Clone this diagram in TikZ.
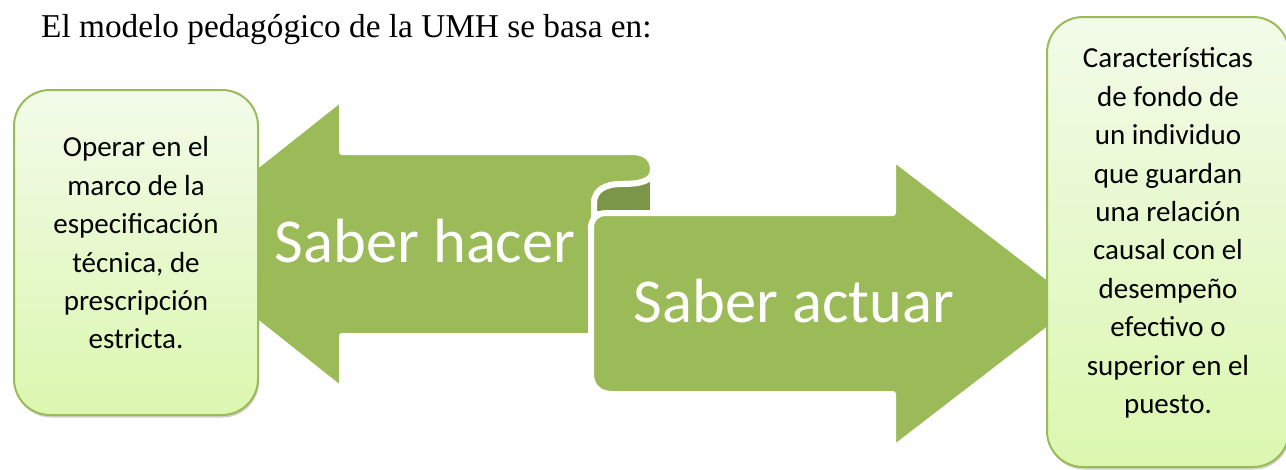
\documentclass[tikz,border=0pt]{standalone}
\usepackage{fontspec}
\setmainfont{Liberation Serif}
\newfontfamily\carlito{Carlito}
\usetikzlibrary{shadows}
\definecolor{arrowgreen}{RGB}{155,187,89}
\definecolor{curldark}{RGB}{124,150,71}
\definecolor{boxtop}{RGB}{242,251,233}
\definecolor{boxbot}{RGB}{219,247,175}
\definecolor{boxline}{RGB}{155,187,89}
\tikzset{
  ribbon/.style={fill=arrowgreen, draw=white, line width=6pt, line join=round,
    drop shadow={shadow xshift=1pt, shadow yshift=-2.5pt, opacity=0.18, fill=black}},
  curl/.style={fill=curldark, draw=white, line width=6pt, line join=round},
  infobox/.style={draw=boxline, line width=2pt, rounded corners=36pt,
    top color=boxtop, bottom color=boxbot, inner sep=0pt,
    minimum width=244pt, minimum height=325pt,
    drop shadow={shadow xshift=1pt, shadow yshift=-2.5pt, opacity=0.18, fill=black}},
  boxtext/.style={font=\carlito\fontsize{29}{38.4}\selectfont, align=center, text=black, inner sep=0pt},
  bigtext/.style={font=\carlito\fontsize{62.5}{70}\selectfont, text=white, inner sep=0pt, anchor=base},
  titletext/.style={font=\fontsize{33.3}{40}\selectfont, inner sep=0pt, anchor=base west}
}
\begin{document}
\begin{tikzpicture}[x=1pt,y=-1pt]
\clip (0,0) rectangle (1286,469);
\fill[white] (0,0) rectangle (1286,469);

% title
\node[titletext] (title) at (41,37) {El modelo pedagógico de la UMH se basa en:};

% left ribbon arrow (Saber hacer)
\path[ribbon] (158,244) -- (342,98) -- (342,152) -- (632,152)
  .. controls (646,152) and (653,159) .. (653,170)
  .. controls (653,181) and (641,184) .. (622,184)
  .. controls (605,184) and (594,190) .. (594,204)
  -- (594,336) -- (342,336) -- (342,390) -- cycle;

% inner side of the curl
\path[curl] (653,170)
  .. controls (653,181) and (641,184) .. (622,184)
  .. controls (605,184) and (594,190) .. (594,204)
  -- (594,214) -- (653,214) -- cycle;

% right ribbon arrow (Saber actuar)
\path[ribbon] (591,228) .. controls (591,219) and (597,213) .. (606,213)
  -- (893,213) -- (893,158) -- (1082,303.5) -- (893,449) -- (893,394)
  -- (612,394) .. controls (599,394) and (591,386) .. (591,374) -- cycle;

\node[bigtext] (hacer) at (425,262) {Saber hacer};
\node[bigtext] (actuar) at (794,322) {Saber actuar};

% left box
\node[infobox] (lbox) at (136,252.5) {};
\node[boxtext] (ltext) at (136,243) {Operar en el\\marco de la\\especificación\\técnica, de\\prescripción\\estricta.};

% right box
\node[infobox, minimum width=242pt, minimum height=450pt] (rbox) at (1168,242) {};
\node[boxtext] (rtext) at (1168,233) {Características\\de fondo de\\un individuo\\que guardan\\una relación\\causal con el\\desempeño\\efectivo o\\superior en el\\puesto.};
\end{tikzpicture}
\end{document}
